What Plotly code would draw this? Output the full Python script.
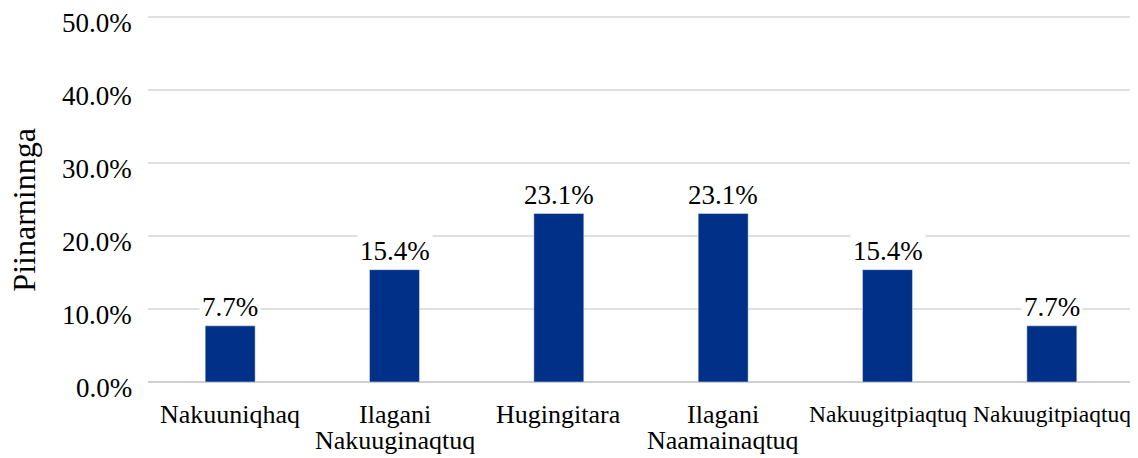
import plotly.graph_objects as go

categories = ["Nakuuniqhaq", "Ilagani<br>Nakuuginaqtuq", "Hugingitara",
              "Ilagani<br>Naamainaqtuq", "Nakuugitpiaqtuq", "Nakuugitpiaqtuq"]
values = [7.7, 15.4, 23.1, 23.1, 15.4, 7.7]
y_ticks = [0, 10, 20, 30, 40, 50]
y_tick_labels = ["0.0%", "10.0%", "20.0%", "30.0%", "40.0%", "50.0%"]
y_title = "Piinarninnga"

FONT = "Liberation Serif"
xpos = list(range(len(categories)))

fig = go.Figure()
fig.add_trace(go.Bar(x=xpos, y=values, marker_color="#003087", width=0.304,
                     hoverinfo="skip"))

# value labels above bars (white background breaks the gridline)
for xi, v in zip(xpos, values):
    fig.add_annotation(x=xi, y=v, text=f"{v:.1f}%", showarrow=False,
                       yanchor="bottom", yshift=1, bgcolor="white", borderpad=2,
                       font=dict(family=FONT, size=27, color="#000"))

# category labels, one annotation per line for tighter line spacing;
# long single-line labels are shrunk so neighbours do not collide
for xi, cat in zip(xpos, categories):
    for j, line in enumerate(cat.split("<br>")):
        size = 26 if len(line) <= 13 else 23.5
        fig.add_annotation(x=xi, xref="x", y=0, yref="paper", text=line,
                           showarrow=False, xanchor="center", yanchor="middle",
                           yshift=-32 - 26 * j,
                           font=dict(family=FONT, size=size, color="#000"))

# y tick labels placed at the gridlines
for tv, tl in zip(y_ticks, y_tick_labels):
    fig.add_annotation(x=0, xref="paper", y=tv, yref="y", text=tl,
                       showarrow=False, xanchor="right", yanchor="middle",
                       xshift=-14, yshift=-6,
                       font=dict(family=FONT, size=27, color="#000"))

# y axis title
fig.add_annotation(x=0, xref="paper", y=25, yref="y", text=y_title,
                   showarrow=False, textangle=-90, xanchor="center",
                   yanchor="middle", xshift=-124, yshift=-10,
                   font=dict(family=FONT, size=32, color="#000"))

fig.update_layout(
    width=1138, height=458,
    margin=dict(l=140, r=12, t=1.7, b=84),
    plot_bgcolor="white", paper_bgcolor="white",
    showlegend=False,
    font=dict(family=FONT, color="#000"),
)
fig.update_xaxes(
    tickmode="array", tickvals=xpos, showticklabels=False,
    range=[-0.5, len(categories) - 0.5],
    showgrid=False, zeroline=False, showline=False, automargin=False,
)
fig.update_yaxes(
    range=[0, 51], tickmode="array", tickvals=y_ticks, showticklabels=False,
    showgrid=True, gridcolor="#e0e0e0", gridwidth=2,
    zeroline=True, zerolinecolor="#d0d0d0", zerolinewidth=2,
    showline=False, automargin=False, ticks="",
)

fig.write_html("out.html")
